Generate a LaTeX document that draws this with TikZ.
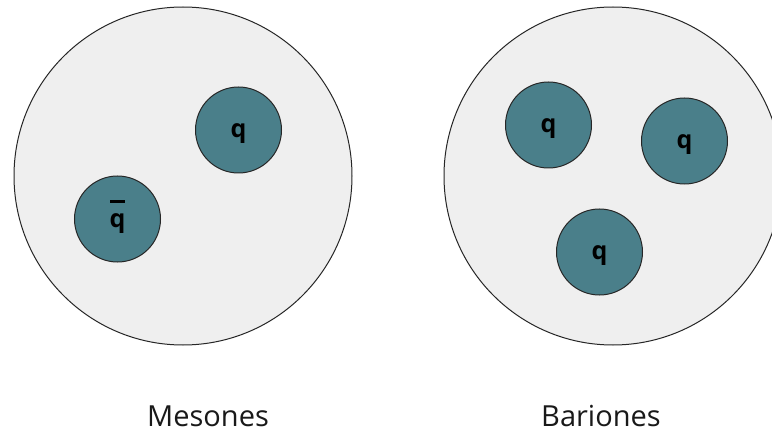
\documentclass[tikz,border=0pt]{standalone}
\usepackage{fontspec}
\setmainfont{Open Sans}
\definecolor{hadronfill}{HTML}{EFEFEF}
\definecolor{quarkfill}{HTML}{4A7F8A}
\tikzset{
  hadron/.style={circle, draw=black!85, line width=1pt, fill=hadronfill, minimum size=#1, inner sep=0pt},
  quark/.style={circle, draw=black!85, line width=1pt, fill=quarkfill, minimum size=86pt, inner sep=0pt},
  qtext/.style={inner sep=0pt, font=\fontsize{25}{25}\selectfont\bfseries},
  caption/.style={font=\fontsize{29}{30}\selectfont, text=black!90}
}
% antiquark symbol: a q with a short thick bar well above it
\newcommand{\antiq}{\ooalign{q\cr\hidewidth\smash{\raisebox{25pt}{\rule{15pt}{3pt}}}\hidewidth\cr}}
\begin{document}
\begin{tikzpicture}[x=1pt,y=-1pt]
  \useasboundingbox (0,0) rectangle (772,433);
  \fill[white] (0,0) rectangle (772,433);
  \clip (0,0) rectangle (772,433);

  % meson: quark and antiquark
  \node[hadron=338pt] (meson) at (183,176) {};
  \node[quark] (q1) at (238.5,130) {};
  \node[qtext] (q1label) at ([yshift=-4pt]q1.center) {q};
  \node[quark] (qbar) at (117.5,219) {};
  \node[qtext] (qbarlabel) at ([yshift=-2pt]qbar.center) {\antiq};

  % baryon: three quarks
  \node[hadron=338pt] (baryon) at (613,176) {};
  \node[quark] (b1) at (548.5,125) {};
  \node[qtext] (b1label) at ([yshift=-4pt]b1.center) {q};
  \node[quark] (b2) at (684.5,141) {};
  \node[qtext] (b2label) at ([yshift=-4pt]b2.center) {q};
  \node[quark] (b3) at (599.5,252) {};
  \node[qtext] (b3label) at ([yshift=-4pt]b3.center) {q};

  % captions
  \node[caption] (lmes) at (208,416) {Mesones};
  \node[caption] (lbar) at (601,416) {Bariones};
\end{tikzpicture}
\end{document}
